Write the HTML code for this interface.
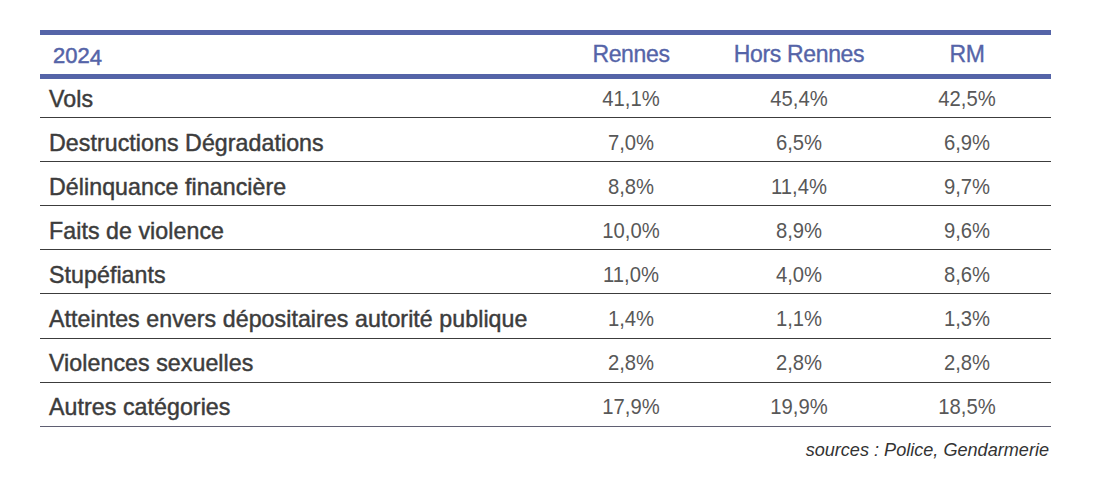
<!DOCTYPE html>
<html><head><meta charset="utf-8">
<style>
html,body{margin:0;padding:0;background:#fff;}
body{width:1096px;height:504px;position:relative;overflow:hidden;font-family:"Liberation Sans",sans-serif;}
.bar{position:absolute;left:40px;width:1011px;height:5px;background:#5564a8;}
.ln{position:absolute;left:40px;width:1011px;height:1px;background:#3c3c3c;}
.t{position:absolute;white-space:nowrap;line-height:1;}
.h{color:#5564a8;font-size:23px;-webkit-text-stroke:0.35px #5564a8;letter-spacing:-0.35px}
.lab{left:49px;color:#3c3c3c;font-size:23.2px;-webkit-text-stroke:0.45px #3c3c3c;letter-spacing:0.06px}
.num{color:#585858;font-size:22px;text-align:center;width:168px;transform:scaleX(0.92);}
.c1{left:547px}.c2{left:715px}.c3{left:883px}
.src{font-style:italic;font-size:18.1px;color:#333;right:47px;}
</style></head><body>
<div class="bar" style="top:30px"></div>
<div class="bar" style="top:74px"></div>
<div class="t h" style="left:53px;top:45px;font-size:22px;-webkit-text-stroke:0.5px #5564a8;letter-spacing:0px">202<span style="position:relative;top:2px">4</span></div>
<div class="t h num c1" style="top:43px;font-size:23px;color:#5564a8;transform:none">Rennes</div>
<div class="t h num c2" style="top:43px;font-size:23px;color:#5564a8;transform:none">Hors Rennes</div>
<div class="t h num c3" style="top:43px;font-size:23px;color:#5564a8;transform:none">RM</div>

<div class="ln" style="top:117px"></div>
<div class="ln" style="top:161px"></div>
<div class="ln" style="top:205px"></div>
<div class="ln" style="top:249px"></div>
<div class="ln" style="top:293px"></div>
<div class="ln" style="top:338px"></div>
<div class="ln" style="top:382px"></div>
<div class="ln" style="top:426px;background:#5f5f72"></div>

<div class="t lab" style="top:88px">Vols</div>
<div class="t num c1" style="top:88px">41,1%</div>
<div class="t num c2" style="top:88px">45,4%</div>
<div class="t num c3" style="top:88px">42,5%</div>

<div class="t lab" style="top:132px">Destructions Dégradations</div>
<div class="t num c1" style="top:132px">7,0%</div>
<div class="t num c2" style="top:132px">6,5%</div>
<div class="t num c3" style="top:132px">6,9%</div>

<div class="t lab" style="top:176px">Délinquance financière</div>
<div class="t num c1" style="top:176px">8,8%</div>
<div class="t num c2" style="top:176px">11,4%</div>
<div class="t num c3" style="top:176px">9,7%</div>

<div class="t lab" style="top:220px">Faits de violence</div>
<div class="t num c1" style="top:220px">10,0%</div>
<div class="t num c2" style="top:220px">8,9%</div>
<div class="t num c3" style="top:220px">9,6%</div>

<div class="t lab" style="top:264px">Stupéfiants</div>
<div class="t num c1" style="top:264px">11,0%</div>
<div class="t num c2" style="top:264px">4,0%</div>
<div class="t num c3" style="top:264px">8,6%</div>

<div class="t lab" style="top:308px">Atteintes envers dépositaires autorité publique</div>
<div class="t num c1" style="top:308px">1,4%</div>
<div class="t num c2" style="top:308px">1,1%</div>
<div class="t num c3" style="top:308px">1,3%</div>

<div class="t lab" style="top:352px">Violences sexuelles</div>
<div class="t num c1" style="top:352px">2,8%</div>
<div class="t num c2" style="top:352px">2,8%</div>
<div class="t num c3" style="top:352px">2,8%</div>

<div class="t lab" style="top:396px">Autres catégories</div>
<div class="t num c1" style="top:396px">17,9%</div>
<div class="t num c2" style="top:396px">19,9%</div>
<div class="t num c3" style="top:396px">18,5%</div>

<div class="t src" style="top:441px">sources : Police, Gendarmerie</div>
</body></html>
